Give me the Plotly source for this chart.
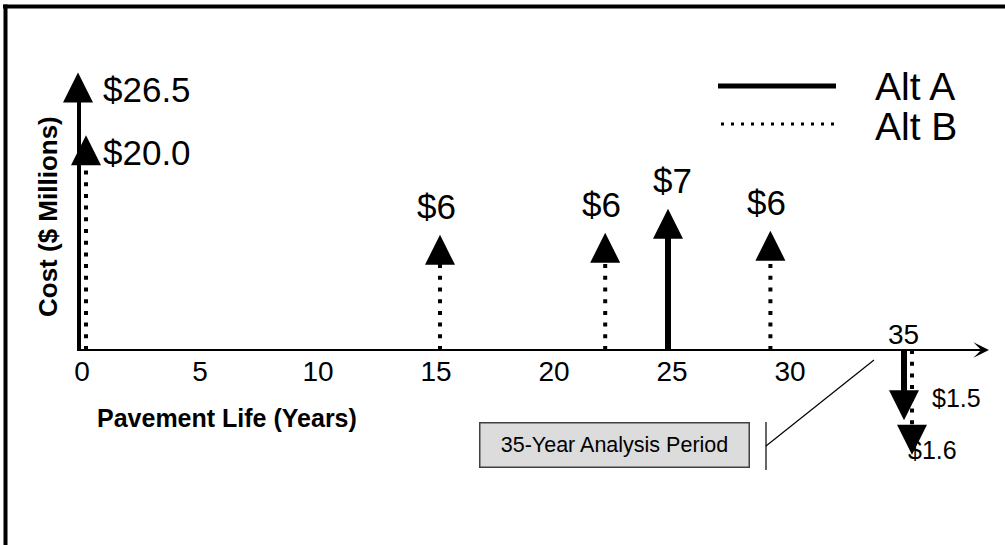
import plotly.graph_objects as go

FONT = "Liberation Sans, Arial, sans-serif"

# cash flows in $ millions (salvage values are negative)
YEARS_A = [0, 25, 35]
COST_A = [26.5, 7.0, -1.5]
YEARS_B = [0, 15, 22, 29, 35]
COST_B = [20.0, 6.0, 6.0, 6.0, -1.6]
# arrow lengths as drawn in the diagram (the sketch is not to scale)
DRAWN_A = [26.5, 13.5, -6.7]
DRAWN_B = [20.5, 11.0, 11.2, 11.4, -10.0]
YEAR_TICKS = [0, 5, 10, 15, 20, 25, 30]
ANALYSIS_YEARS = 35

# page geometry, pixels
W, H = 1005, 545
ML, MR, MT, MB = 77, 25, 40, 45
X0_PX, PX_PER_YEAR = 82, 23.6
BASE_PX, PX_PER_UNIT = 350, 10.47
DODGE_PX = 4
HEAD_PX = 30


def paper_x(px):
    return (px - ML) / (W - ML - MR)


def paper_y(px):
    return (H - MB - px) / (H - MT - MB)


def money(year, cost):
    fmt = ".1f" if year == 0 or cost < 0 else ".0f"
    return f"${abs(cost):{fmt}}"


def add_alternative(fig, years, costs, drawn, xaxis, dash, width, salvage_shift):
    head = (HEAD_PX - 2) / PX_PER_UNIT
    xs, ys = [], []
    for yr, d in zip(years, drawn):
        xs += [yr, yr, None]
        ys += [0, d - head if d > 0 else d + head, None]
    fig.add_trace(go.Scatter(
        x=xs, y=ys, xaxis=xaxis, mode="lines", cliponaxis=False,
        line={"color": "black", "width": width, "dash": dash},
        hoverinfo="skip", showlegend=False,
    ))
    fig.add_trace(go.Scatter(
        x=years, y=drawn, xaxis=xaxis, mode="markers", cliponaxis=False,
        marker={"symbol": ["arrow-up" if d > 0 else "arrow-down" for d in drawn],
                "size": HEAD_PX, "color": "black", "line": {"width": 0}},
        customdata=costs,
        hovertemplate="Year %{x}<br>$%{customdata} M<extra></extra>",
        showlegend=False,
    ))
    for yr, c, d in zip(years, costs, drawn):
        ann = {"x": yr, "y": d, "xref": "x", "yref": "y", "text": money(yr, c),
               "showarrow": False, "font": {"family": FONT, "size": 35, "color": "black"}}
        if yr == 0:
            ann.update(xanchor="left", yanchor="middle", xshift=19, yshift=-17)
        elif c < 0:
            ann.update(xanchor="left", yanchor="middle", xshift=salvage_shift[0], yshift=salvage_shift[1])
            ann["font"] = {"family": FONT, "size": 25, "color": "black"}
        else:
            ann.update(xanchor="center", yanchor="middle", yshift=28)
        fig.add_annotation(**ann)


fig = go.Figure()
add_alternative(fig, YEARS_A, COST_A, DRAWN_A, "x2", "solid", 6, (22, 22))
add_alternative(fig, YEARS_B, COST_B, DRAWN_B, "x3", "4px,7.7px", 4, (-2, 5))

x_range = [(ML - X0_PX) / PX_PER_YEAR, (W - MR - X0_PX) / PX_PER_YEAR]
shift = DODGE_PX / PX_PER_YEAR

fig.update_layout(
    width=W, height=H,
    margin={"l": ML, "r": MR, "t": MT, "b": MB},
    paper_bgcolor="white", plot_bgcolor="white",
    font={"family": FONT, "color": "black"},
    showlegend=False,
    xaxis={
        "range": x_range, "anchor": "free", "position": paper_y(BASE_PX),
        "tickvals": YEAR_TICKS, "ticks": "", "showgrid": False, "zeroline": False,
        "showline": True, "linecolor": "black", "linewidth": 2,
        "tickfont": {"size": 28, "family": FONT, "color": "black"},
        "ticklabelstandoff": -4,
    },
    xaxis2={"range": [x_range[0] + shift, x_range[1] + shift], "overlaying": "x", "visible": False},
    xaxis3={"range": [x_range[0] - shift, x_range[1] - shift], "overlaying": "x", "visible": False},
    yaxis={"range": [(BASE_PX - (H - MB)) / PX_PER_UNIT, (BASE_PX - MT) / PX_PER_UNIT], "visible": False},
)


def note(px, py, text, size, **kw):
    fig.add_annotation(x=paper_x(px), y=paper_y(py), xref="paper", yref="paper", text=text,
                       showarrow=False, xanchor=kw.pop("xanchor", "center"), yanchor="middle",
                       font={"size": size, "family": FONT, "color": "black"}, **kw)


def rule(x0, y0, x1, y1, width, dash="solid"):
    fig.add_shape(type="line", xref="paper", yref="paper",
                  x0=paper_x(x0), x1=paper_x(x1), y0=paper_y(y0), y1=paper_y(y1),
                  line={"color": "black", "width": width, "dash": dash})


# end of the time axis and the analysis-period year
fig.add_annotation(x=paper_x(989), y=0, xref="paper", yref="y", ax=-22, ay=0, text="",
                   showarrow=True, arrowhead=3, arrowwidth=2, arrowsize=1.3, arrowcolor="black")
fig.add_annotation(x=ANALYSIS_YEARS, y=0, xref="x", yref="y", text=str(ANALYSIS_YEARS),
                   showarrow=False, yanchor="bottom", xshift=-5, yshift=-2,
                   font={"size": 28, "family": FONT, "color": "black"})

# axis titles
note(48, 217, "<b>Cost ($ Millions)</b>", 26, textangle=-90)
note(227, 418, "<b>Pavement Life (Years)</b>", 25)

# analysis period call-out
note(614, 445, "35-Year Analysis Period", 21.5, width=268, height=43, borderpad=0,
     bgcolor="#dcdcdc", bordercolor="#404040", borderwidth=1.5)
rule(766, 422, 766, 470, 1.2)
rule(766, 446, 874, 360, 1.2)

# legend key
rule(718, 86, 836, 86, 5)
rule(721, 124, 834, 124, 3, "3px,7px")
note(873, 86, "Alt A", 39, xanchor="left")
note(873, 126, "Alt B", 39, xanchor="left")

# page frame (top and left edges)
rule(3, 6.5, 1005, 6.5, 4)
rule(5.5, 4.5, 5.5, 545, 4)

fig.write_html("out.html", config={"displayModeBar": False},
               post_script="document.body.style.margin = '0';")
